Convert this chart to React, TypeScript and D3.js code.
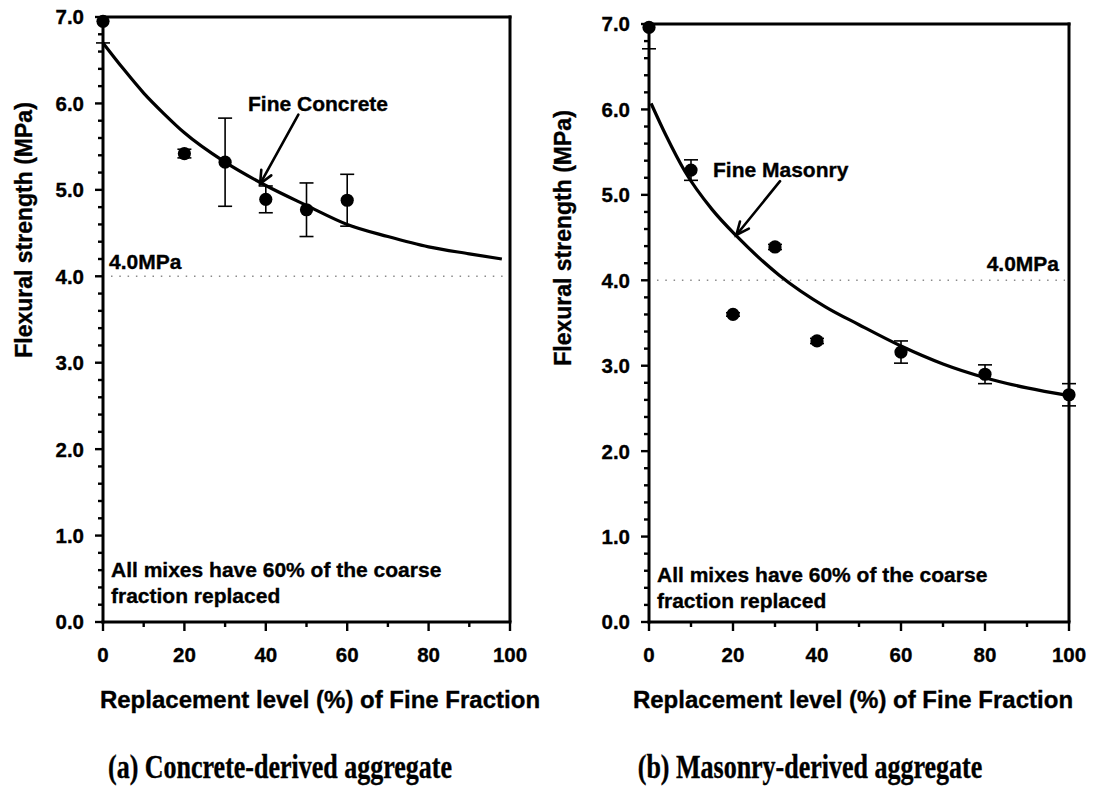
import React from "react";
import * as d3 from "d3";

// ---------- data ----------
const concreteX = [0, 20, 30, 40, 50, 60];
const concreteY = [6.95, 5.42, 5.32, 4.89, 4.77, 4.88];
const concreteErr = [0.25, 0.05, 0.51, 0.155, 0.31, 0.3];

const concreteFitX = [0, 5, 10, 15, 20, 30, 40, 50, 60, 70, 80, 90, 98];
const concreteFitY = [6.7, 6.4, 6.12, 5.88, 5.66, 5.32, 5.05, 4.82, 4.6, 4.46, 4.34, 4.26, 4.2];

const masonryX = [0, 10, 20, 30, 40, 60, 80, 100];
const masonryY = [6.96, 5.29, 3.6, 4.39, 3.29, 3.16, 2.9, 2.66];
const masonryErr = [0.25, 0.12, 0.02, 0.03, 0.03, 0.13, 0.11, 0.13];

const masonryFitX = [0.5, 4, 8.6, 15, 21, 31, 42, 50, 60, 70, 80, 90, 100];
const masonryFitY = [6.07, 5.7, 5.27, 4.83, 4.51, 4.06, 3.69, 3.48, 3.23, 3.02, 2.86, 2.74, 2.65];

const xTicks = [0, 20, 40, 60, 80, 100];
const xMinorTicks = [10, 30, 50, 70, 90];
const yTicks = [0, 1, 2, 3, 4, 5, 6, 7];
const limitValue = 4.0;
const limitLabel = "4.0MPa";
const yTitle = "Flexural strength (MPa)";
const xTitle = "Replacement level (%) of Fine Fraction";
const noteLines = ["All mixes have 60% of the coarse", "fraction replaced"];

const SANS = "'Liberation Sans', Arial, sans-serif";
const SERIF = "'Liberation Serif', 'Times New Roman', serif";
const BOLDEN = { stroke: "#000", strokeWidth: 0.35 } as const;

type PanelProps = {
  xr: [number, number];
  yr: [number, number];
  px: number[];
  py: number[];
  pe: number[];
  fx: number[];
  fy: number[];
  label: string;
  labelPos: [number, number];
  arrowFrom: [number, number];
  arrowTo: [number, number];
  limitLabelPos: [number, number, string];
  notePos: [number, number];
  yTitlePos: [number, number];
  xTitlePos: [number, number];
  caption: string;
  captionPos: [number, number];
};

function Panel(p: PanelProps) {
  const x = d3.scaleLinear().domain([0, 100]).range(p.xr);
  const y = d3.scaleLinear().domain([0, 7]).range(p.yr);
  const line = d3
    .line<number>()
    .x((_, i) => x(p.fx[i]))
    .y((d) => y(d))
    .curve(d3.curveMonotoneX);
  const yMinor = d3.range(0, 35).map((i) => i * 0.2).filter((v) => Math.abs(v - Math.round(v)) > 1e-6);

  const ax = x(p.arrowFrom[0]);
  const ay = y(p.arrowFrom[1]);
  const tx = x(p.arrowTo[0]);
  const ty = y(p.arrowTo[1]);
  const ang = Math.atan2(ay - ty, ax - tx);
  const hl = 14;
  const ha = 0.42;
  const w1: [number, number] = [tx + hl * Math.cos(ang + ha), ty + hl * Math.sin(ang + ha)];
  const w2: [number, number] = [tx + hl * Math.cos(ang - ha), ty + hl * Math.sin(ang - ha)];

  return (
    <g>
      {/* limit line */}
      <line
        x1={x(0) + 8}
        x2={x(100) - 4}
        y1={y(limitValue)}
        y2={y(limitValue)}
        stroke="#8a8a8a"
        strokeWidth={1.4}
        strokeDasharray="1.5 6.8"
      />
      <text
        x={p.limitLabelPos[0]}
        y={p.limitLabelPos[1]}
        textAnchor={p.limitLabelPos[2] as any}
        fontFamily={SANS}
        fontWeight="bold"
        fontSize={21}
        {...BOLDEN}
      >
        {limitLabel}
      </text>

      {/* fit curve */}
      <path d={line(p.fy) || ""} fill="none" stroke="#000" strokeWidth={3.2} />

      {/* error bars */}
      {p.px.map((xv, i) => {
        const lo = p.py[i] - p.pe[i];
        const hi = p.py[i] + p.pe[i];
        const hiC = Math.min(hi, 7);
        const cx = x(xv);
        return (
          <g key={"e" + i} stroke="#000" strokeWidth={1.6}>
            <line x1={cx} x2={cx} y1={y(lo)} y2={y(hiC)} />
            <line x1={cx - 7} x2={cx + 7} y1={y(lo)} y2={y(lo)} />
            {hi <= 7 && <line x1={cx - 7} x2={cx + 7} y1={y(hi)} y2={y(hi)} />}
          </g>
        );
      })}

      {/* axes + frame */}
      <g stroke="#000" strokeWidth={3} fill="none">
        <line x1={x(0)} x2={x(0)} y1={y(0) + 1.5} y2={y(7)} />
        <line x1={x(0) - 1.5} x2={x(100) + 1.5} y1={y(0)} y2={y(0)} />
        <line x1={x(0) - 1.5} x2={x(100) + 1.5} y1={y(7)} y2={y(7)} />
        <line x1={x(100)} x2={x(100)} y1={y(0)} y2={y(7) - 1.5} />
      </g>
      <g stroke="#000" strokeWidth={2.4}>
        {yTicks.map((v) => (
          <line key={"yt" + v} x1={x(0) - 8} x2={x(0)} y1={y(v)} y2={y(v)} />
        ))}
        {yMinor.map((v, i) => (
          <line key={"ym" + i} x1={x(0) - 5} x2={x(0)} y1={y(v)} y2={y(v)} />
        ))}
        {xTicks.map((v) => (
          <line key={"xt" + v} x1={x(v)} x2={x(v)} y1={y(0)} y2={y(0) + 9} />
        ))}
        {xMinorTicks.map((v) => (
          <line key={"xm" + v} x1={x(v)} x2={x(v)} y1={y(0)} y2={y(0) + 5} />
        ))}
      </g>
      <g fontFamily={SANS} fontWeight="bold" fontSize={20.5} {...BOLDEN}>
        {yTicks.map((v) => (
          <text key={"yl" + v} x={x(0) - 19} y={y(v)} dy="0.36em" textAnchor="end">
            {d3.format(".1f")(v)}
          </text>
        ))}
        {xTicks.map((v) => (
          <text key={"xl" + v} x={x(v)} y={y(0) + 40} textAnchor="middle">
            {v}
          </text>
        ))}
      </g>

      {/* points */}
      {p.px.map((xv, i) => (
        <circle key={"p" + i} cx={x(xv)} cy={y(p.py[i])} r={6.6} fill="#000" />
      ))}

      {/* arrow + label */}
      <g stroke="#000" strokeWidth={2.6} fill="none" strokeLinecap="round">
        <line x1={ax} y1={ay} x2={tx} y2={ty} />
        <polyline points={`${w1[0]},${w1[1]} ${tx},${ty} ${w2[0]},${w2[1]}`} />
      </g>
      <text x={p.labelPos[0]} y={p.labelPos[1]} fontFamily={SANS} fontWeight="bold" fontSize={21} {...BOLDEN}>
        {p.label}
      </text>

      {/* note */}
      <g fontFamily={SANS} fontWeight="bold" fontSize={21} {...BOLDEN}>
        {noteLines.map((t, i) => (
          <text key={"n" + i} x={p.notePos[0]} y={p.notePos[1] + i * 26}>
            {t}
          </text>
        ))}
      </g>

      {/* axis titles */}
      <text
        transform={`translate(${p.yTitlePos[0]},${p.yTitlePos[1]}) rotate(-90)`}
        textAnchor="middle"
        fontFamily={SANS}
        fontWeight="bold"
        fontSize={23}
        {...BOLDEN}
      >
        {yTitle}
      </text>
      <text
        x={p.xTitlePos[0]}
        y={p.xTitlePos[1]}
        textAnchor="middle"
        fontFamily={SANS}
        fontWeight="bold"
        fontSize={24}
        {...BOLDEN}
      >
        {xTitle}
      </text>
      <text
        transform={`translate(${p.captionPos[0]},${p.captionPos[1]}) scale(1,1.3)`}
        textAnchor="middle"
        fontFamily={SERIF}
        fontWeight="bold"
        fontSize={26}
        stroke="#000"
        strokeWidth={0.3}
      >
        {p.caption}
      </text>
    </g>
  );
}

export default function App() {
  return (
    <svg
      width={1105}
      height={800}
      viewBox="0 0 1105 800"
      style={{ position: "absolute", left: 0, top: 0, background: "#fff" }}
    >
      <rect x={0} y={0} width={1105} height={800} fill="#fff" />
      <Panel
        xr={[103, 510]}
        yr={[622, 17]}
        px={concreteX}
        py={concreteY}
        pe={concreteErr}
        fx={concreteFitX}
        fy={concreteFitY}
        label="Fine Concrete"
        labelPos={[248, 111]}
        arrowFrom={[48, 5.87]}
        arrowTo={[38.6, 5.07]}
        limitLabelPos={[109, 269, "start"]}
        notePos={[111, 577]}
        yTitlePos={[32, 230]}
        xTitlePos={[320, 708]}
        caption="(a) Concrete-derived aggregate"
        captionPos={[280, 778]}
      />
      <Panel
        xr={[649, 1069]}
        yr={[622, 24]}
        px={masonryX}
        py={masonryY}
        pe={masonryErr}
        fx={masonryFitX}
        fy={masonryFitY}
        label="Fine Masonry"
        labelPos={[713, 177]}
        arrowFrom={[31.2, 5.16]}
        arrowTo={[20.8, 4.53]}
        limitLabelPos={[1059, 271, "end"]}
        notePos={[657, 582]}
        yTitlePos={[571, 238]}
        xTitlePos={[853, 708]}
        caption="(b) Masonry-derived aggregate"
        captionPos={[810, 778]}
      />
    </svg>
  );
}
